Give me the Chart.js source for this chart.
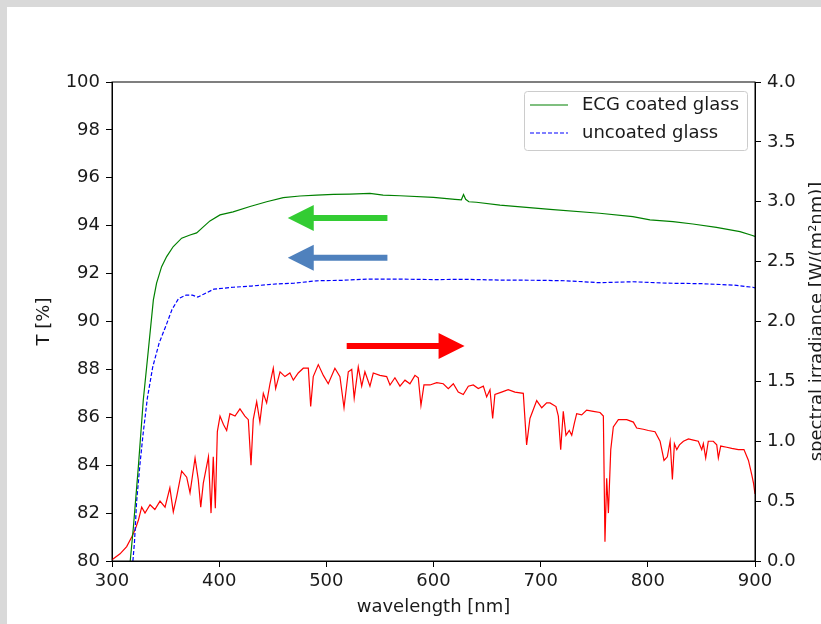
<!DOCTYPE html>
<html lang="en">
<head>
<meta charset="UTF-8">
<title>ECG coated glass transmission</title>
<script src="https://cdn.jsdelivr.net/npm/chart.js"></script>
<style>
    html, body { margin: 0; padding: 0; background: #d9d9d9; }
    #frame { position: absolute; left: 7px; top: 7px; width: 814px; height: 617px; background: #fff; }
</style>
</head>
<body>
<div id="frame"><canvas id="myChart" width="814" height="617"></canvas></div>
<script>
// ECG coated glass, transmission T [%] (left axis)
const ecgWl = [317, 320, 324.6, 329.2, 333.9, 338.6, 341.6, 346.3, 351, 357.2, 365, 372.8, 379, 385.2, 391.4, 400.8,
    413, 428.8, 444.3, 459.8, 475.4, 491, 506.5, 522, 540.7, 553, 568.7, 600, 620, 626, 628, 630, 633, 640, 662,
    708.7, 755, 786, 802, 823.5, 842, 864, 886, 896.9, 900];
const ecgT = [80, 81.43, 83.94, 86.72, 88.8, 90.9, 91.6, 92.29, 92.71, 93.13, 93.48, 93.61, 93.7, 93.95, 94.2, 94.45,
    94.58, 94.8, 95.0, 95.17, 95.24, 95.28, 95.31, 95.32, 95.35, 95.28, 95.25, 95.18, 95.1, 95.08, 95.3, 95.1, 95.0, 94.98, 94.86,
    94.68, 94.52, 94.38, 94.24, 94.17, 94.07, 93.93, 93.75, 93.6, 93.55];

// uncoated glass, transmission T [%] (left axis)
const uncoatedWl = [319.5, 321, 323, 326, 329, 333, 338, 344, 351, 356, 362, 369, 375, 380, 386, 395, 413, 430, 454,
    470, 491, 515, 538, 569, 600, 630, 662, 700, 724, 755, 786, 818, 850, 880, 898, 900];
const uncoatedT = [80, 80.8, 82.5, 84, 85.3, 86.8, 88.1, 89.1, 89.9, 90.5, 90.95, 91.1, 91.1, 91.02, 91.15, 91.35, 91.43,
    91.48, 91.57, 91.6, 91.7, 91.72, 91.77, 91.77, 91.75, 91.76, 91.73, 91.72, 91.7, 91.62, 91.66, 91.6, 91.58, 91.52, 91.43, 91.4];

// solar spectrum, spectral irradiance [W/(m2 nm)] (right axis)
const sunWl = [300, 307.5, 313.7, 318.4, 321.5, 324.6, 327.7, 330.8, 335.5, 340, 344.8, 349.5, 354, 357.2, 360.4, 365,
    369.7, 372.8, 377.5, 380.5, 382.8, 385.2, 390, 392.4, 394.5, 396.4, 398.3, 400.8, 404, 407, 410, 414.8, 419.4, 424,
    427.2, 429.7, 431.8, 435, 438, 441.2, 444.3, 447.4, 450.5, 452.7, 456.8, 461.4, 466, 469.2, 473.8, 478.5, 483.2,
    485.4, 487.8, 492.5, 497.2, 501.8, 508, 512.7, 516.5, 520.5, 523.7, 526, 529.8, 533, 536, 540.7, 543.8, 550, 556.3,
    559.4, 564, 568.7, 573.4, 578, 582.7, 585.8, 588.3, 591.1, 596.7, 603, 609.1, 613.8, 618.5, 623.1, 627.8, 632.5,
    637.1, 641.8, 646.5, 649.6, 652.7, 655.2, 657.3, 663.5, 669.7, 676, 683.8, 686.9, 690, 696.3, 701, 705.6, 708.7,
    714.3, 716.5, 718.7, 721.1, 723.6, 726.7, 729, 731.4, 733.6, 738.3, 742.9, 749.1, 755.4, 758.5, 760, 761.6, 763.2,
    765.4, 767.8, 772.5, 780.3, 786.5, 789.6, 795.8, 800.5, 806.7, 811.4, 815.1, 818.2, 820.8, 822.9, 824.8, 827, 829.5,
    833.2, 837.9, 842.5, 847.1, 850.3, 851.8, 854, 856.4, 861.1, 864.3, 865.8, 868, 873.6, 878.3, 884.5, 889.7, 893.9,
    897, 898.6, 900];
const sunIrr = [0.01, 0.06, 0.12, 0.20, 0.26, 0.34, 0.45, 0.40, 0.47, 0.43, 0.50, 0.45, 0.61, 0.41, 0.54, 0.75,
    0.70, 0.57, 0.86, 0.68, 0.45, 0.65, 0.87, 0.40, 0.87, 0.44, 1.08, 1.21, 1.14, 1.09, 1.23, 1.21, 1.27, 1.21,
    1.18, 0.80, 1.18, 1.33, 1.16, 1.40, 1.32, 1.48, 1.61, 1.44, 1.58, 1.54, 1.57, 1.51, 1.57, 1.61, 1.61,
    1.29, 1.54, 1.64, 1.55, 1.48, 1.61, 1.54, 1.28, 1.58, 1.60, 1.36, 1.62, 1.46, 1.58, 1.46, 1.57, 1.55, 1.54,
    1.47, 1.53, 1.46, 1.51, 1.48, 1.55, 1.53, 1.30, 1.47, 1.47, 1.49, 1.48, 1.44, 1.48, 1.41, 1.39, 1.46,
    1.47, 1.44, 1.46, 1.37, 1.43, 1.19, 1.39, 1.41, 1.43, 1.41, 1.40, 0.97, 1.19, 1.34, 1.28, 1.32, 1.32,
    1.29, 1.21, 0.93, 1.25, 1.05, 1.09, 1.05, 1.15, 1.23, 1.22, 1.26, 1.25, 1.24, 1.21, 0.16, 0.69, 0.40,
    0.93, 1.12, 1.18, 1.18, 1.16, 1.11, 1.10, 1.09, 1.08, 1.00, 0.84, 0.87, 1.00, 0.68, 0.98, 0.93, 0.97,
    1.00, 1.02, 1.01, 1.00, 0.93, 0.98, 0.86, 1.00, 1.00, 0.97, 0.86, 0.96, 0.95, 0.94, 0.93, 0.93, 0.84,
    0.72, 0.65, 0.56];

const seriesLabels = ["ECG coated glass", "uncoated glass"];

// annotation arrows: [from nm, to nm, value, axis, colour]
const arrows = [
    [557, 464, 94.32, 'y', '#33cc33'],
    [557, 464, 92.66, 'y', '#4f81bd'],
    [519, 629, 1.795, 'y1', '#ff0000']
];

const FONT = "'DejaVu Sans', sans-serif";
const TEXT = '#1a1a1a';

function pts(xs, ys) {
    return xs.map((x, i) => ({ x: x, y: ys[i] }));
}

function drawArrow(ctx, x0, x1, y, color) {
    const dir = x1 > x0 ? 1 : -1;
    const headLen = 26, headHalf = 13, shaft = 3;
    const xb = x1 - dir * headLen;
    ctx.fillStyle = color;
    ctx.beginPath();
    ctx.moveTo(x0, y - shaft);
    ctx.lineTo(xb, y - shaft);
    ctx.lineTo(xb, y - headHalf);
    ctx.lineTo(x1, y);
    ctx.lineTo(xb, y + headHalf);
    ctx.lineTo(xb, y + shaft);
    ctx.lineTo(x0, y + shaft);
    ctx.closePath();
    ctx.fill();
}

const decor = {
    id: 'decor',
    afterDraw(chart) {
        const { ctx, chartArea: a, scales } = chart;
        ctx.save();

        // frame around the plot (top edge has no axis)
        ctx.strokeStyle = '#000';
        ctx.lineWidth = 1;
        ctx.strokeRect(a.left, a.top, a.right - a.left, a.bottom - a.top);

        arrows.forEach(([from, to, v, axis, color]) => {
            drawArrow(ctx, scales.x.getPixelForValue(from), scales.x.getPixelForValue(to),
                scales[axis].getPixelForValue(v), color);
        });

        // legend inside the plot
        const lw = 223, lh = 59;
        const lx = a.right - 8 - lw, ly = a.top + 9;
        ctx.fillStyle = 'rgba(255,255,255,0.85)';
        ctx.strokeStyle = '#cccccc';
        ctx.beginPath();
        ctx.roundRect(lx + 0.5, ly + 0.5, lw, lh, 3);
        ctx.fill();
        ctx.stroke();
        ctx.font = '18px ' + FONT;
        ctx.textBaseline = 'middle';
        chart.data.datasets.slice(0, 2).forEach((ds, i) => {
            const ry = ly + 14 + i * 28;
            ctx.strokeStyle = ds.borderColor;
            ctx.lineWidth = ds.borderWidth;
            ctx.setLineDash(ds.borderDash || []);
            ctx.beginPath();
            ctx.moveTo(lx + 6, ry);
            ctx.lineTo(lx + 44, ry);
            ctx.stroke();
            ctx.setLineDash([]);
            ctx.fillStyle = TEXT;
            ctx.textAlign = 'left';
            ctx.fillText(seriesLabels[i], lx + 58, ry);
        });

        // axis titles
        ctx.fillStyle = TEXT;
        ctx.textAlign = 'center';
        ctx.textBaseline = 'middle';
        ctx.fillText('wavelength [nm]', (a.left + a.right) / 2, a.bottom + 46);
        const cy = (a.top + a.bottom) / 2;
        ctx.save();
        ctx.translate(a.left - 68, cy);
        ctx.rotate(-Math.PI / 2);
        ctx.fillText('T [%]', 0, 0);
        ctx.restore();
        ctx.save();
        ctx.translate(a.right + 62, cy);
        ctx.rotate(-Math.PI / 2);
        ctx.fillText('spectral irradiance [W/(m\u00b2nm)]', 0, 0);
        ctx.restore();

        ctx.restore();
    }
};

const axisGrid = { drawOnChartArea: false, drawTicks: true, tickLength: 6, color: '#000', tickColor: '#000' };
const axisBorder = { display: true, color: '#000', width: 1 };
const tickFont = { family: FONT, size: 18 };

const ctx = document.getElementById('myChart').getContext('2d');
const myChart = new Chart(ctx, {
    type: 'line',
    data: {
        datasets: [{
            label: seriesLabels[0],
            data: pts(ecgWl, ecgT),
            yAxisID: 'y',
            borderColor: '#008000',
            borderWidth: 1.2,
            pointRadius: 0,
            tension: 0
        }, {
            label: seriesLabels[1],
            data: pts(uncoatedWl, uncoatedT),
            yAxisID: 'y',
            borderColor: '#0000ff',
            borderWidth: 1.2,
            borderDash: [4, 2],
            pointRadius: 0,
            tension: 0
        }, {
            label: 'spectral irradiance',
            data: pts(sunWl, sunIrr),
            yAxisID: 'y1',
            borderColor: '#ff0000',
            borderWidth: 1.2,
            pointRadius: 0,
            tension: 0
        }]
    },
    options: {
        responsive: false,
        animation: false,
        layout: { padding: { top: 75, left: 0, right: 0, bottom: 0 } },
        plugins: { legend: { display: false }, tooltip: { enabled: false } },
        scales: {
            x: {
                type: 'linear', min: 300, max: 900,
                grid: axisGrid, border: axisBorder,
                ticks: { stepSize: 100, font: tickFont, color: TEXT, padding: 4, maxRotation: 0 },
                afterFit: (s) => { s.height = 63; }
            },
            y: {
                position: 'left', min: 80, max: 100,
                grid: axisGrid, border: axisBorder,
                ticks: { stepSize: 2, font: tickFont, color: TEXT, padding: 6 },
                afterFit: (s) => { s.width = 105; }
            },
            y1: {
                position: 'right', min: 0, max: 4,
                grid: axisGrid, border: axisBorder,
                ticks: { stepSize: 0.5, font: tickFont, color: TEXT, padding: 6, callback: (v) => v.toFixed(1) },
                afterFit: (s) => { s.width = 66; }
            }
        }
    },
    plugins: [decor]
});
</script>
</body>
</html>
